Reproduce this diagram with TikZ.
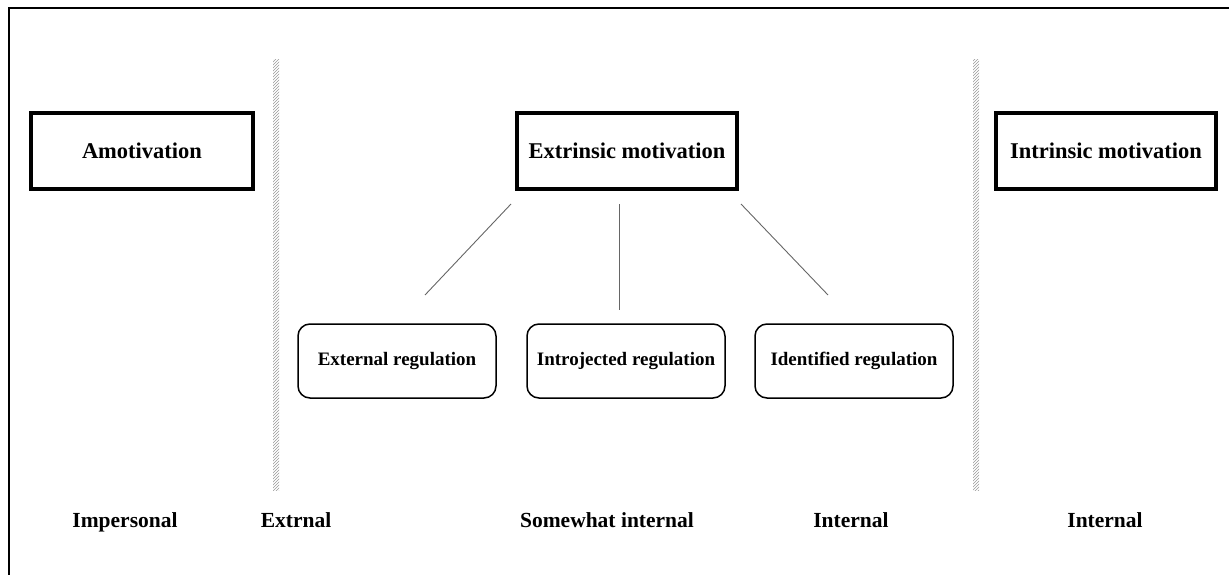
\documentclass[tikz,border=0pt]{standalone}
\usepackage{fontspec}
\setmainfont{Liberation Serif}
\usepackage{tikz}
\usetikzlibrary{patterns}
\tikzset{
  mainbox/.style={draw,line width=3.6pt,minimum width=222pt,minimum height=76pt,font=\fontsize{22.5}{26}\selectfont\bfseries},
  regbox/.style={draw,line width=1.5pt,rounded corners=12pt,minimum width=198pt,minimum height=74pt,font=\fontsize{19}{22}\selectfont\bfseries},
  levellabel/.style={text height=0.7em,text depth=0.25em,font=\fontsize{21.5}{24}\selectfont\bfseries},
  branch/.style={draw=gray!80!black,line width=0.9pt},
  divider/.style={pattern=north east lines,pattern color=gray!80}
}

\begin{document}
\begin{tikzpicture}[x=1pt,y=-1pt]
  \useasboundingbox (0,0) rectangle (1229,575);
  % frame
  \draw[line width=1.8pt] (9,575) -- (9,8) -- (1229,8);
  % dividers
  \fill[divider] (273,60) rectangle (279,490);
  \fill[divider] (973,60) rectangle (979,490);
  % top row
  \node[mainbox] (amot) at (142,151) {Amotivation};
  \node[mainbox,minimum width=220pt] (extr) at (627,151) {Extrinsic motivation};
  \node[mainbox,minimum width=220pt] (intr) at (1106,151) {Intrinsic motivation};
  % regulation boxes
  \foreach \nm/\x/\txt in {extreg/397/{External regulation},introreg/626/{Introjected regulation},identreg/854/{Identified regulation}}{
    \node[regbox] (\nm) at (\x,361) {\txt};}
  % branches
  \coordinate (b1top) at (511,204); \coordinate (b1bot) at (425,295);
  \coordinate (b2top) at (619,204); \coordinate (b2bot) at (619,310);
  \coordinate (b3top) at (741,204); \coordinate (b3bot) at (828,295);
  \foreach \i in {1,2,3}{\draw[branch] (b\i top) -- (b\i bot);}
  % bottom labels
  \foreach \txt/\x [count=\i] in {Impersonal/125,Extrnal/296,{Somewhat internal}/607,Internal/851,Internal/1105}{
    \node[levellabel] (lvl\i) at (\x,525) {\txt};}
\end{tikzpicture}
\end{document}
